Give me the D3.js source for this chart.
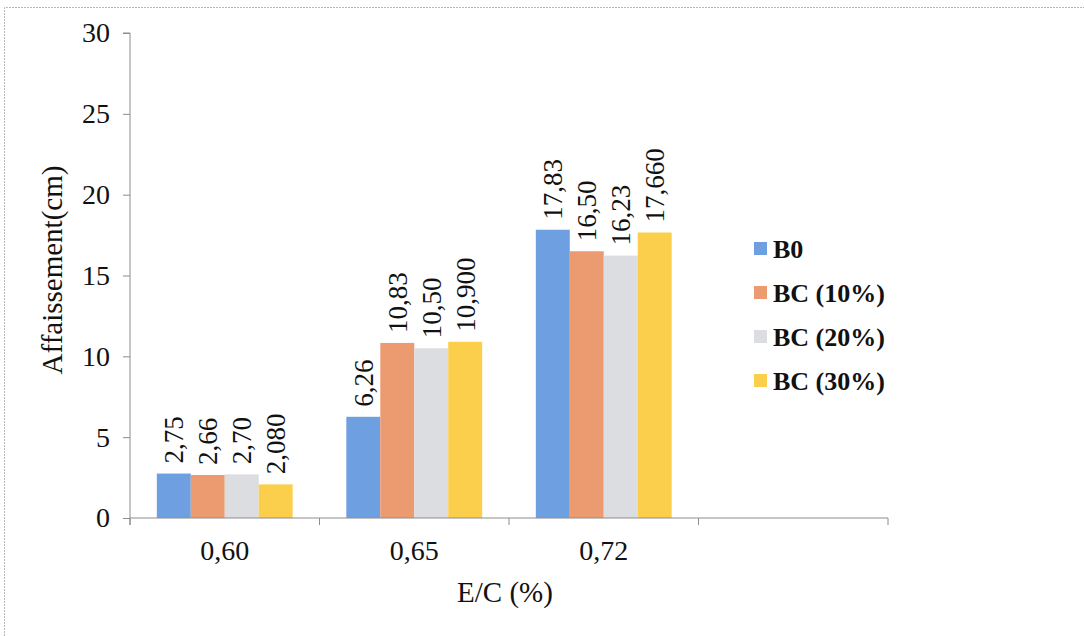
<!DOCTYPE html>
<html>
<head>
<meta charset="utf-8">
<script src="https://cdn.jsdelivr.net/npm/d3@7/dist/d3.min.js"></script>
<style>
  html, body { margin: 0; padding: 0; background: #fff; }
  svg { display: block; }
  text { font-family: "Liberation Serif", "Times New Roman", serif; fill: #111; }
</style>
</head>
<body>
<svg id="chart" width="1084" height="636"></svg>
<script>
// Water/cement ratio categories (last slot is an empty category)
const categories = ["0,60", "0,65", "0,72", ""];
const seriesNames = ["B0", "BC (10%)", "BC (20%)", "BC (30%)"];
const seriesColors = ["#6e9fe0", "#ec9a70", "#dcdde0", "#fbcf4c"];

// Slump (cm) per series, one value per category
const b0    = [2.75, 6.26, 17.83];
const bc10  = [2.66, 10.83, 16.50];
const bc20  = [2.70, 10.50, 16.23];
const bc30  = [2.08, 10.90, 17.66];

// Data labels as printed above each bar
const b0Labels   = ["2,75", "6,26", "17,83"];
const bc10Labels = ["2,66", "10,83", "16,50"];
const bc20Labels = ["2,70", "10,50", "16,23"];
const bc30Labels = ["2,080", "10,900", "17,660"];

const yTicks = [0, 5, 10, 15, 20, 25, 30];

const seriesValues = [b0, bc10, bc20, bc30];
const seriesLabels = [b0Labels, bc10Labels, bc20Labels, bc30Labels];

const svg = d3.select("#chart");

// Outer frame (dotted, light grey)
svg.append("path")
  .attr("d", "M4.5,636 L4.5,7.5 L1084,7.5")
  .attr("fill", "none")
  .attr("stroke", "#b8b8b8")
  .attr("stroke-width", 1)
  .attr("stroke-dasharray", "2,1");

const plot = { left: 130, right: 888, top: 33, bottom: 518 };

const x = d3.scaleBand().domain(categories).range([plot.left, plot.right]).paddingInner(0).paddingOuter(0);
const xs = d3.scaleBand().domain(seriesNames).range([0, x.bandwidth()]).paddingInner(0).paddingOuter(0.79);
const y = d3.scaleLinear().domain([0, 30]).range([plot.bottom, plot.top]);

// Bars
const bars = [];
seriesNames.forEach((name, si) => {
  seriesValues[si].forEach((v, ci) => {
    bars.push({ name, si, cat: categories[ci], value: v, label: seriesLabels[si][ci] });
  });
});

svg.append("g").selectAll("rect").data(bars).join("rect")
  .attr("x", d => x(d.cat) + xs(d.name))
  .attr("y", d => y(d.value))
  .attr("width", xs.bandwidth())
  .attr("height", d => y(0) - y(d.value))
  .attr("fill", d => seriesColors[d.si]);

// Rotated value labels
svg.append("g").selectAll("text").data(bars).join("text")
  .attr("transform", d => `translate(${x(d.cat) + xs(d.name) + xs.bandwidth() / 2},${y(d.value) - 10}) rotate(-90)`)
  .attr("dy", "0.35em")
  .attr("text-anchor", "start")
  .attr("font-size", 27)
  .text(d => d.label);

// Y axis
const yAxis = svg.append("g")
  .attr("transform", `translate(${plot.left},0)`)
  .call(d3.axisLeft(y).tickValues(yTicks).tickSize(7).tickPadding(13).tickFormat(d3.format("d")));
yAxis.select(".domain").attr("stroke", "#8c8c8c").attr("d", `M-7,${plot.top}H0V${plot.bottom + 7}`);
yAxis.selectAll(".tick line").attr("stroke", "#8c8c8c");
yAxis.selectAll(".tick text").attr("font-size", 28).attr("font-family", "Liberation Serif").attr("fill", "#111");

// X axis: ticks at category boundaries, labels centered in each band
const xAxisG = svg.append("g").attr("transform", `translate(0,${plot.bottom})`);
xAxisG.append("line")
  .attr("x1", plot.left).attr("x2", plot.right)
  .attr("stroke", "#8c8c8c");
const boundaries = categories.map(c => x(c)).concat([plot.right]);
xAxisG.selectAll("line.tk").data(boundaries).join("line")
  .attr("class", "tk")
  .attr("x1", d => d).attr("x2", d => d)
  .attr("y1", 0).attr("y2", 7)
  .attr("stroke", "#8c8c8c");
xAxisG.selectAll("text").data(categories).join("text")
  .attr("x", d => x(d) + x.bandwidth() / 2)
  .attr("y", 42)
  .attr("text-anchor", "middle")
  .attr("font-size", 28)
  .text(d => d);

// Axis titles
svg.append("text")
  .attr("x", 505).attr("y", 602)
  .attr("text-anchor", "middle")
  .attr("font-size", 29)
  .text("E/C (%)");

svg.append("text")
  .attr("transform", "translate(62,270) rotate(-90)")
  .attr("text-anchor", "middle")
  .attr("font-size", 29)
  .text("Affaissement(cm)");

// Legend
const legend = svg.append("g").attr("transform", "translate(754,249)");
const lg = legend.selectAll("g").data(seriesNames).join("g")
  .attr("transform", (d, i) => `translate(0,${i * 44})`);
lg.append("rect")
  .attr("x", 0).attr("y", -7).attr("width", 13).attr("height", 13)
  .attr("fill", (d, i) => seriesColors[i]);
lg.append("text")
  .attr("x", 19).attr("dy", "0.35em")
  .attr("font-size", 26)
  .attr("font-weight", "bold")
  .text(d => d);
</script>
</body>
</html>
